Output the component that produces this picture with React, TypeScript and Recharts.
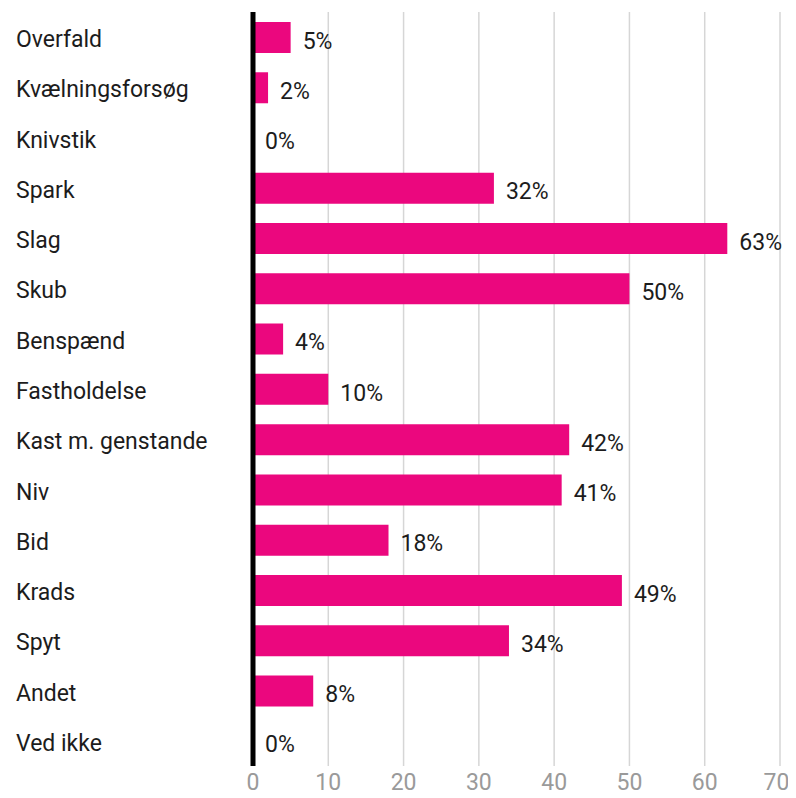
import { Bar, BarChart, CartesianGrid, LabelList, ReferenceLine, XAxis, YAxis } from "recharts";

const categories = [
  "Overfald",
  "Kvælningsforsøg",
  "Knivstik",
  "Spark",
  "Slag",
  "Skub",
  "Benspænd",
  "Fastholdelse",
  "Kast m. genstande",
  "Niv",
  "Bid",
  "Krads",
  "Spyt",
  "Andet",
  "Ved ikke",
];
const shares = [5, 2, 0, 32, 63, 50, 4, 10, 42, 41, 18, 49, 34, 8, 0];
const xTicks = [0, 10, 20, 30, 40, 50, 60, 70];

const data = categories.map((name, i) => ({ name, value: shares[i] }));

const FONT = "Roboto, 'DejaVu Sans', sans-serif";
const PINK = "#EB077E";

function CategoryTick({ y, payload }: any) {
  return (
    <text x={8} y={y} dy={10} textAnchor="start" fill="#1c1c1c" fontSize={23} fontFamily={FONT}>
      {payload.value}
    </text>
  );
}

export default function App() {
  return (
    <div style={{ width: 780, height: 782 }}>
      <BarChart
        width={780}
        height={782}
        data={data}
        layout="vertical"
        margin={{ top: 4, right: 8, left: 0, bottom: 0 }}
      >
        <CartesianGrid vertical horizontal={false} stroke="#d6d6d6" strokeWidth={1.5} />
        <XAxis
          type="number"
          domain={[0, 70]}
          ticks={xTicks}
          tickLine={false}
          axisLine={false}
          height={24}
          tick={{ fill: "#9a9a9a", fontSize: 23, fontFamily: FONT }}
        />
        <YAxis
          type="category"
          dataKey="name"
          width={245}
          tickLine={false}
          axisLine={false}
          tick={<CategoryTick />}
        />
        <Bar dataKey="value" fill={PINK} barSize={31} minPointSize={0.1} isAnimationActive={false}>
          <LabelList
            dataKey="value"
            position="right"
            offset={12}
            dy={3}
            formatter={(v: any) => `${v}%`}
            fill="#1c1c1c"
            fontSize={23}
            fontFamily={FONT}
          />
        </Bar>
        <ReferenceLine x={0} stroke="#000" strokeWidth={5} />
      </BarChart>
    </div>
  );
}
